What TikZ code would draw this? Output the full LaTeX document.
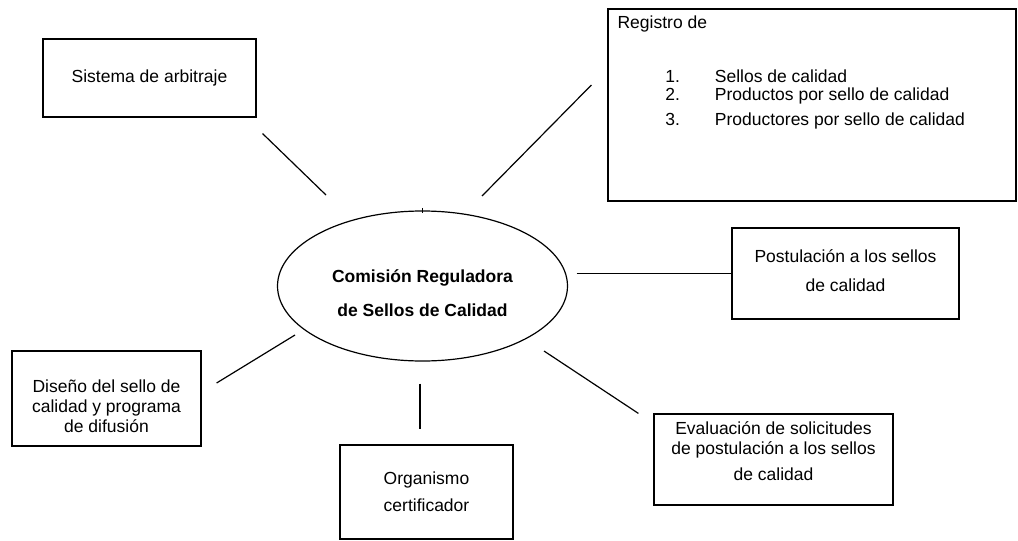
\documentclass[tikz,border=0pt]{standalone}
\usepackage{fontspec}
\setmainfont{Liberation Sans}
\usetikzlibrary{shapes.geometric}

\begin{document}
\begin{tikzpicture}[x=1pt, y=-1pt,
  font=\fontsize{17.5}{20}\selectfont, inner sep=0pt,
  boxn/.style={draw=black, line width=1.2pt, align=center},
  centern/.style={draw=black, line width=1.2pt, ellipse, align=center,
    font=\fontsize{17.5}{20}\selectfont\bfseries},
  textn/.style={draw=none, anchor=base west},
  linkn/.style={draw=black, line width=1.2pt}]
  \useasboundingbox (0,0) rectangle (1018,541);
  % centre
  \node[centern, minimum width=290, minimum height=150] (crc) at (422.5,286)
    {\mbox{}\\[7.2pt]Comisión Reguladora\\[13.4pt]de Sellos de Calidad};
  \draw[line width=0.6pt] ([yshift=2.5pt]crc.north) -- ([yshift=-2.5pt]crc.north);
  % boxes round it
  \node[boxn, minimum width=213, minimum height=78] (sis) at (149.5,78)
    {Sistema de arbitraje};
  \node[boxn, minimum width=408, minimum height=192] (reg) at (812,105) {};
  \node[textn] (regt) at ([shift={(10,20.5)}]reg.north west) {Registro de};
  \node[textn] (regl) at ([shift={(57.7,74)}]reg.north west)
    {\begin{tabular}[t]{@{}l@{\hspace{35pt}}l@{}}
      1. & Sellos de calidad\\[-2pt]
      2. & Productos por sello de calidad\\[5pt]
      3. & Productores por sello de calidad
    \end{tabular}};
  \node[boxn, minimum width=227, minimum height=91] (pos) at (845.5,273.5)
    {Postulación a los sellos\\[9pt]de calidad\\[-15pt]\mbox{}};
  \node[boxn, minimum width=239, minimum height=91] (eva) at (773.5,459.5)
    {Evaluación de solicitudes\\de postulación a los sellos\\[6pt]de calidad\\[-3pt]\mbox{}};
  \node[boxn, minimum width=173, minimum height=94] (org) at (426.5,492)
    {Organismo\\[7pt]certificador};
  \node[boxn, minimum width=189, minimum height=95] (dis) at (106.5,398.5)
    {\mbox{}\\[8pt]Diseño del sello de\\calidad y programa\\de difusión};
  % connectors
  \draw[linkn] ([shift={(6,16)}]sis.south east) -- ([shift={(-96.5,-91)}]crc.center);
  \draw[linkn] ([shift={(59.5,-90)}]crc.center) -- ([shift={(-16,-20)}]reg.west);
  \draw[linkn, shorten <=8.5pt] (crc.east |- pos.west) -- (pos.west);
  \draw[linkn] ([shift={(121.5,65)}]crc.center) -- ([shift={(-15,0)}]eva.north west);
  \draw[linkn] ([shift={(-2.5,22)}]crc.south) -- ([shift={(-6.5,-15)}]org.north);
  \draw[linkn] ([shift={(-127.5,49)}]crc.center) -- ([shift={(15,-15.5)}]dis.east);
\end{tikzpicture}
\end{document}
